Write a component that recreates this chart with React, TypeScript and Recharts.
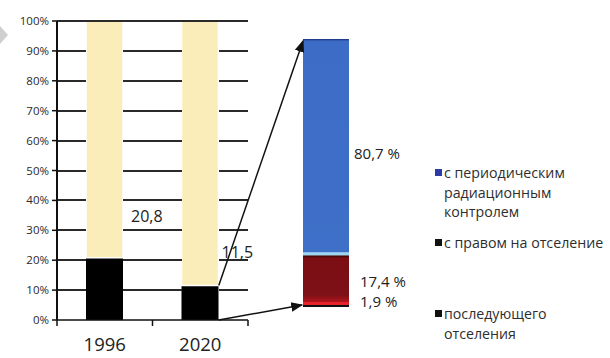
import React from "react";
import {
  BarChart,
  Bar,
  XAxis,
  YAxis,
  LabelList,
} from "recharts";

// share of territory by year (black = resettlement zones)
const YEARS = ["1996", "2020"];
const RESETTLE = [20.8, 11.5];
const OTHER = [79.2, 88.5];
const Y_TICKS = [0, 10, 20, 30, 40, 50, 60, 70, 80, 90, 100];

// breakdown of 2020 zones, bottom to top
const ZONE_KEYS = ["later", "right", "periodic"];
const ZONE_VALUES = [1.9, 17.4, 80.7];
const LEGEND_LABELS = [
  "с периодическим\nрадиационным\nконтролем",
  "с правом на отселение",
  "последующего\nотселения",
];
const LEGEND_COLORS = ["#2B3AA6", "#111", "#111"];

const FONT = "'Open Sans', sans-serif";
const W = 610;
const H = 358;

// left chart geometry
const C1_W = 260;
const P1_LEFT = 57;
const P1_RIGHT = 248;
const P1_TOP = 21;
const P1_BOTTOM = 320;
const BAR1 = 37;

// right chart geometry
const C2_LEFT = 250;
const C2_W = 360;
const BAR2_LEFT = 303;
const BAR2 = 46;
const P2_TOP = 39;
const P2_BOTTOM = 307;

const fmt = (v: number) => String(v).replace(".", ",");

const yearData = YEARS.map((y, i) => ({ year: y, resettle: RESETTLE[i], other: OTHER[i] }));
const zoneRow: any = { name: "2020" };
ZONE_KEYS.forEach((k, i) => (zoneRow[k] = ZONE_VALUES[i]));
const zoneData = [zoneRow];

// same mapping as the left chart's y axis (domain 0..100), for the overlay
const yPix = (v: number) => P1_BOTTOM - (v / 100) * (P1_BOTTOM - P1_TOP);

const YearTick = ({ x, payload, index }: any) => {
  const band = (P1_RIGHT - P1_LEFT) / YEARS.length;
  return (
    <g>
      <line x1={x - band / 2} x2={x - band / 2} y1={P1_BOTTOM} y2={P1_BOTTOM + 6} stroke="#111" strokeWidth={1.5} />
      {index === YEARS.length - 1 && (
        <line x1={x + band / 2} x2={x + band / 2} y1={P1_BOTTOM} y2={P1_BOTTOM + 6} stroke="#111" strokeWidth={1.5} />
      )}
      <text x={x} y={P1_BOTTOM + 31} textAnchor="middle" fontSize={18.5} fill="#222" fontFamily={FONT}>
        {payload.value}
      </text>
    </g>
  );
};

const yearLabel = (props: any) => {
  const { x, y, width, value, index } = props;
  const dx = [8, 3][index];
  const lift = [42, 34][index];
  return (
    <text x={x + width + dx} y={y - lift} dominantBaseline="central" fontSize={16} fill="#222" fontFamily={FONT}>
      {fmt(value)}
    </text>
  );
};

const zoneLabel = (dx: number, dy: number) => (props: any) => {
  const { x, y, width, height, value } = props;
  return (
    <text x={x + width + dx} y={y + height / 2 + dy} dominantBaseline="central" fontSize={15} fill="#222" fontFamily={FONT}>
      {fmt(value) + " %"}
    </text>
  );
};

export default function App() {
  const band = (P1_RIGHT - P1_LEFT) / YEARS.length;
  const fromX = P1_LEFT + band * 1.5 + BAR1 / 2;
  const fromTop = yPix(RESETTLE[1]);

  // gridline pieces between the bars (the bars sit on top of the grid)
  const edges = [P1_LEFT];
  YEARS.forEach((_, i) => {
    const c = P1_LEFT + band * (i + 0.5);
    edges.push(c - BAR1 / 2, c + BAR1 / 2);
  });
  edges.push(P1_RIGHT);
  const gaps: [number, number][] = [];
  for (let i = 0; i < edges.length; i += 2) gaps.push([edges[i], edges[i + 1]]);

  const gridPieces: { key: string; left: number; width: number; top: number }[] = [];
  Y_TICKS.filter((t) => t > 0).forEach((t) => {
    const spans = t === 100 ? [[P1_LEFT, P1_RIGHT]] : gaps;
    spans.forEach(([a, b], j) =>
      gridPieces.push({ key: `${t}-${j}`, left: a, width: b - a, top: Math.round(yPix(t)) - 1 })
    );
  });

  return (
    <div style={{ position: "absolute", left: 0, top: 0, width: W, height: H, background: "#fff", fontFamily: FONT }}>
      <div style={{ position: "absolute", left: 0, top: 0 }}>
        <BarChart
          width={C1_W}
          height={H}
          data={yearData}
          margin={{ top: P1_TOP, right: C1_W - P1_RIGHT, bottom: 0, left: 7 }}
          barSize={BAR1}
        >
          <XAxis
            dataKey="year"
            height={H - P1_BOTTOM}
            axisLine={{ stroke: "#111", strokeWidth: 1.5 }}
            tickLine={false}
            tick={<YearTick />}
            interval={0}
          />
          <YAxis
            width={50}
            domain={[0, 100]}
            ticks={Y_TICKS}
            tickFormatter={(v) => `${v}%`}
            axisLine={{ stroke: "#111", strokeWidth: 1.5 }}
            tickLine={{ stroke: "#111", strokeWidth: 1.5 }}
            tickSize={5}
            tickMargin={3}
            tick={{ fill: "#2a2a2a", fontSize: 11.5, fontFamily: FONT }}
          />
          <Bar dataKey="resettle" stackId="a" fill="#000" isAnimationActive={false}>
            <LabelList dataKey="resettle" content={yearLabel} />
          </Bar>
          <Bar dataKey="other" stackId="a" fill="#FBEDB9" stroke="#fff" strokeWidth={1.5} isAnimationActive={false} />
        </BarChart>
      </div>

      <div style={{ position: "absolute", left: C2_LEFT, top: 0 }}>
        <BarChart
          width={C2_W}
          height={H}
          data={zoneData}
          margin={{ top: P2_TOP, bottom: H - P2_BOTTOM, left: BAR2_LEFT - C2_LEFT, right: C2_W - (BAR2_LEFT - C2_LEFT) - BAR2 }}
          barCategoryGap={0}
        >
          <defs>
            <linearGradient id="gBlue" x1="0" y1="0" x2="0" y2="1">
              <stop offset="0" stopColor="#17307a" />
              <stop offset="0.01" stopColor="#3C6CC6" />
              <stop offset="0.984" stopColor="#3F70C8" />
              <stop offset="0.988" stopColor="#9ED6F2" />
              <stop offset="1" stopColor="#9ED6F2" />
            </linearGradient>
            <linearGradient id="gRed" x1="0" y1="0" x2="0" y2="1">
              <stop offset="0" stopColor="#2a0405" />
              <stop offset="0.06" stopColor="#7A0E13" />
              <stop offset="0.85" stopColor="#7E1017" />
              <stop offset="1" stopColor="#B0141C" />
            </linearGradient>
            <linearGradient id="gLow" x1="0" y1="0" x2="0" y2="1">
              <stop offset="0" stopColor="#E8222C" />
              <stop offset="0.55" stopColor="#E8222C" />
              <stop offset="0.6" stopColor="#111" />
              <stop offset="1" stopColor="#111" />
            </linearGradient>
          </defs>
          <XAxis dataKey="name" hide />
          <YAxis domain={[0, 100]} hide />
          <Bar dataKey="later" stackId="z" fill="url(#gLow)" isAnimationActive={false}>
            <LabelList dataKey="later" content={zoneLabel(11, -3.5)} />
          </Bar>
          <Bar dataKey="right" stackId="z" fill="url(#gRed)" isAnimationActive={false}>
            <LabelList dataKey="right" content={zoneLabel(11, 2)} />
          </Bar>
          <Bar dataKey="periodic" stackId="z" fill="url(#gBlue)" isAnimationActive={false}>
            <LabelList dataKey="periodic" content={zoneLabel(5, 6)} />
          </Bar>
        </BarChart>
      </div>

      {gridPieces.map((g) => (
        <div
          key={g.key}
          style={{ position: "absolute", left: g.left, top: g.top, width: g.width, height: 2, background: "#2a2a2a", zIndex: 5 }}
        />
      ))}
      <div style={{ position: "absolute", left: P1_LEFT - 1, top: P1_TOP, width: 2, height: P1_BOTTOM - P1_TOP, background: "#111", zIndex: 5 }} />

      <div style={{ position: "absolute", left: 435, top: 163, color: "#2e2e2e", fontSize: 14.2, lineHeight: "19.5px" }}>
        {LEGEND_LABELS.map((label, i) => (
          <div key={i} style={{ display: "flex", marginTop: [0, 11, 52][i] }}>
            <span style={{ width: 7, height: 7, background: LEGEND_COLORS[i], marginTop: 6, marginRight: 2, flex: "none" }} />
            <span style={{ whiteSpace: "pre-line" }}>{label}</span>
          </div>
        ))}
      </div>

      <svg width={W} height={H} style={{ position: "absolute", left: 0, top: 0, pointerEvents: "none", zIndex: 6 }}>
        <defs>
          <marker id="arrow" viewBox="0 0 10 10" refX="9" refY="5" markerWidth="8" markerHeight="8" orient="auto">
            <path d="M0,1 L10,5 L0,9 z" fill="#111" />
          </marker>
        </defs>
        <polygon points="0,26 8,35 0,44" fill="#cfcfcf" />
        <line x1={fromX} y1={fromTop} x2={BAR2_LEFT} y2={P2_TOP + 2} stroke="#111" strokeWidth={1.5} markerEnd="url(#arrow)" />
        <line x1={fromX} y1={P1_BOTTOM} x2={BAR2_LEFT - 1} y2={P2_BOTTOM - 2} stroke="#111" strokeWidth={1.5} markerEnd="url(#arrow)" />
      </svg>
    </div>
  );
}
